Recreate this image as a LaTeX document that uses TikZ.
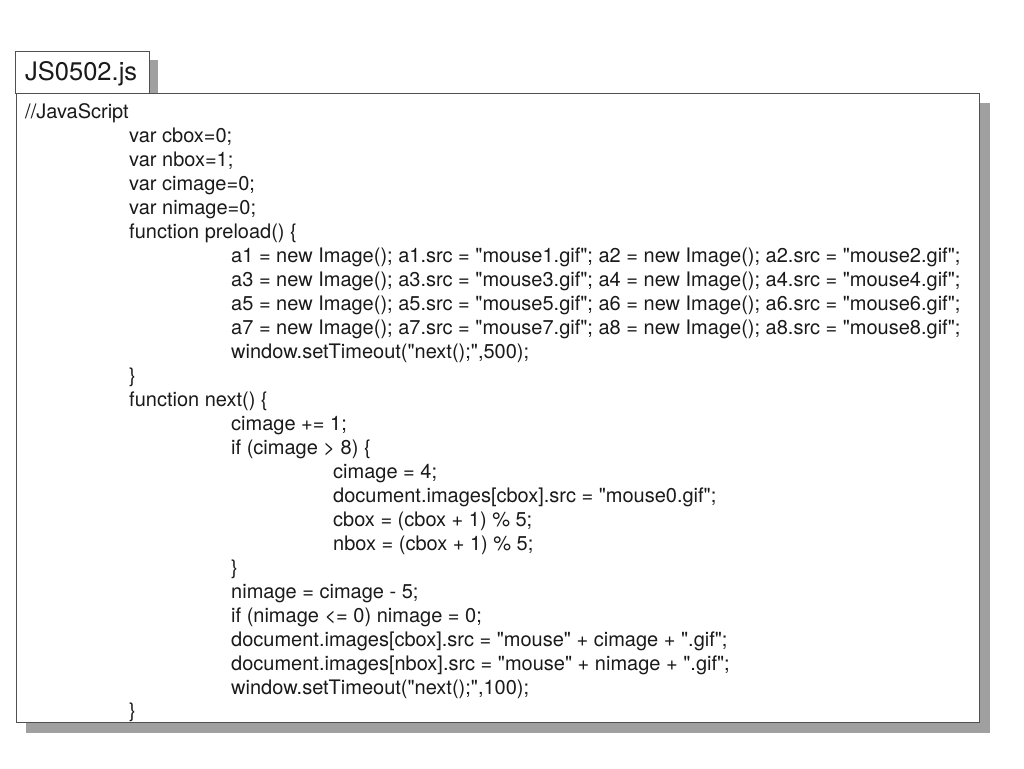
\documentclass[tikz,border=0pt]{standalone}
\usepackage{fontspec}
\newfontfamily\codefont{TeX Gyre Heros}
\usepackage{xcolor}
\usepackage{tikz}
\definecolor{ShadowGray}{HTML}{A0A0A0}
\definecolor{FrameGray}{HTML}{505050}
\definecolor{CodeInk}{HTML}{1A1A1A}
\tikzset{
  code/.style = {anchor = base west, inner sep = 0pt, text = CodeInk, font = \codefont\fontsize{20}{24}\selectfont},
  frame/.style = {line width = 1pt, draw = FrameGray, fill = white}
}

\begin{document}
\begin{tikzpicture}[x = 1pt, y = -1pt]
  \useasboundingbox (0,0) rectangle (1024,768);

  % tab
\begin{scope}
    \fill[ShadowGray] (149,60) rectangle (158,93);
    \draw[frame] (15,52) rectangle (149,93);
    \node[anchor = base west, inner sep = 0pt, text = CodeInk, font = \codefont\fontsize{25.5}{30}\selectfont] (tabname) at (25,81) {JS0502.js};
\end{scope}

  % code box
\begin{scope}
    \fill[ShadowGray] (26,103) rectangle (990,733);
    \draw[frame] (16,93) rectangle (979,722);
\end{scope}

  % code lines
  \node[code] (l0)  at (25,118.5)  {//JavaScript};
  \node[code] (l1)  at (129,142.5) {var cbox=0;};
  \node[code] (l2)  at (129,166.5) {var nbox=1;};
  \node[code] (l3)  at (129,190.5) {var cimage=0;};
  \node[code] (l4)  at (129,214.5) {var nimage=0;};
  \node[code] (l5)  at (129,238.5) {function preload() \{};
  \node[code] (l6)  at (231,262.5) {a1 = new Image(); a1.src = "mouse1.gif"; a2 = new Image(); a2.src = "mouse2.gif";};
  \node[code] (l7)  at (231,286.5) {a3 = new Image(); a3.src = "mouse3.gif"; a4 = new Image(); a4.src = "mouse4.gif";};
  \node[code] (l8)  at (231,310.5) {a5 = new Image(); a5.src = "mouse5.gif"; a6 = new Image(); a6.src = "mouse6.gif";};
  \node[code] (l9)  at (231,334.5) {a7 = new Image(); a7.src = "mouse7.gif"; a8 = new Image(); a8.src = "mouse8.gif";};
  \node[code] (l10) at (231,358.5) {window.setTimeout("next();",500);};
  \node[code] (l11) at (129,382.5) {\}};
  \node[code] (l12) at (129,406.5) {function next() \{};
  \node[code] (l13) at (231,430.5) {cimage += 1;};
  \node[code] (l14) at (231,454.5) {if (cimage > 8) \{};
  \node[code] (l15) at (333,478.5) {cimage = 4;};
  \node[code] (l16) at (333,502.5) {document.images[cbox].src = "mouse0.gif";};
  \node[code] (l17) at (333,526.5) {cbox = (cbox + 1) \% 5;};
  \node[code] (l18) at (333,550.5) {nbox = (cbox + 1) \% 5;};
  \node[code] (l19) at (231,574.5) {\}};
  \node[code] (l20) at (231,598.5) {nimage = cimage - 5;};
  \node[code] (l21) at (231,622.5) {if (nimage <= 0) nimage = 0;};
  \node[code] (l22) at (231,646.5) {document.images[cbox].src = "mouse" + cimage + ".gif";};
  \node[code] (l23) at (231,670.5) {document.images[nbox].src = "mouse" + nimage + ".gif";};
  \node[code] (l24) at (231,694.5) {window.setTimeout("next();",100);};
  \node[code] (l25) at (129,717)   {\}};

\end{tikzpicture}
\end{document}
